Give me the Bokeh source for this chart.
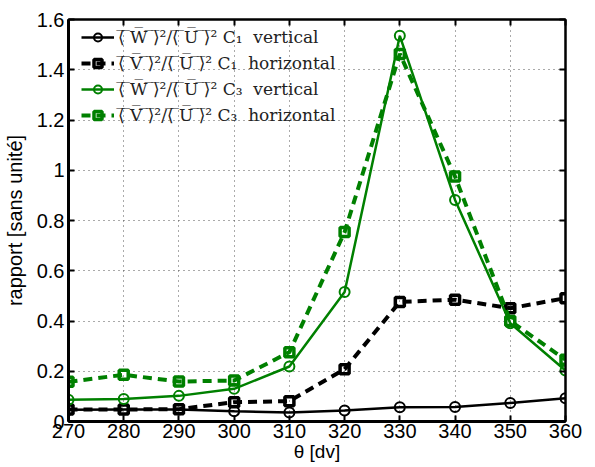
from bokeh.plotting import figure
from bokeh.models import LinearAxis, Range1d, FixedTicker, Legend, LegendItem
from bokeh.embed import file_html
from bokeh.resources import INLINE

theta = [270, 280, 290, 300, 310, 320, 330, 340, 350, 360]
w_c1_vert = [0.047, 0.048, 0.048, 0.041, 0.036, 0.044, 0.057, 0.058, 0.074, 0.093]
v_c1_horiz = [0.048, 0.048, 0.049, 0.077, 0.081, 0.208, 0.476, 0.485, 0.451, 0.491]
w_c3_vert = [0.087, 0.090, 0.102, 0.130, 0.219, 0.515, 1.535, 0.882, 0.391, 0.203]
v_c3_horiz = [0.158, 0.186, 0.159, 0.163, 0.276, 0.754, 1.463, 0.975, 0.400, 0.246]


def ov(s):
    return "".join(c + "\u0305" for c in s)


labels = [
    ov("\u27e8 W \u27e9") + "\u00b2/" + ov("\u27e8 U \u27e9") + "\u00b2 C\u2081  vertical",
    ov("\u27e8 V \u27e9") + "\u00b2/" + ov("\u27e8 U \u27e9") + "\u00b2 C\u2081  horizontal",
    ov("\u27e8 W \u27e9") + "\u00b2/" + ov("\u27e8 U \u27e9") + "\u00b2 C\u2083  vertical",
    ov("\u27e8 V \u27e9") + "\u00b2/" + ov("\u27e8 U \u27e9") + "\u00b2 C\u2083  horizontal",
]

x_ticks = [270, 280, 290, 300, 310, 320, 330, 340, 350, 360]
y_ticks = [0, 0.2, 0.4, 0.6, 0.8, 1.0, 1.2, 1.4, 1.6]
y_tick_labels = {0: "0", 0.2: "0.2", 0.4: "0.4", 0.6: "0.6", 0.8: "0.8", 1.0: "1", 1.2: "1.2", 1.4: "1.4", 1.6: "1.6"}

GREEN = "#008000"
BLACK = "#000000"

p = figure(width=595, height=467, output_backend="svg", toolbar_location=None,
           x_range=Range1d(270, 360), y_range=Range1d(0, 1.6),
           min_border_left=67, min_border_right=30, min_border_top=19, min_border_bottom=46)

p.outline_line_color = "black"
p.outline_line_width = 2

font = "Liberation Sans"
for ax in [p.xaxis[0], p.yaxis[0]]:
    ax.major_label_text_font = font
    ax.major_label_text_font_size = "20px"
    ax.major_label_text_color = "black"
    ax.axis_label_text_font = font
    ax.axis_label_text_font_size = "19px"
    ax.axis_label_text_font_style = "normal"
    ax.axis_label_text_color = "black"
    ax.axis_line_width = 3
    ax.major_tick_in = 6
    ax.major_tick_out = 0
    ax.major_tick_line_width = 2
    ax.minor_tick_line_color = None

p.xaxis[0].ticker = FixedTicker(ticks=x_ticks)
p.yaxis[0].ticker = FixedTicker(ticks=y_ticks)
p.yaxis[0].major_label_overrides = y_tick_labels
p.xaxis[0].axis_label = "\u03b8 [dv]"
p.yaxis[0].axis_label = "rapport [sans unit\u00e9]"
p.yaxis[0].axis_label_text_font_size = "20px"
p.xaxis[0].major_label_standoff = 2
p.xaxis[0].axis_label_standoff = 0
p.yaxis[0].major_label_standoff = 4
p.yaxis[0].axis_label_standoff = 8

top = LinearAxis(ticker=FixedTicker(ticks=x_ticks), major_label_text_alpha=0,
                 major_label_text_font_size="1px", major_tick_in=6, major_tick_out=0,
                 major_tick_line_width=2, minor_tick_line_color=None, axis_line_width=2)
right = LinearAxis(ticker=FixedTicker(ticks=y_ticks), major_label_text_alpha=0,
                   major_label_text_font_size="1px", major_tick_in=6, major_tick_out=0,
                   major_tick_line_width=2, minor_tick_line_color=None, axis_line_width=2)
p.add_layout(top, "above")
p.add_layout(right, "right")

p.xgrid.ticker = FixedTicker(ticks=x_ticks)
p.ygrid.ticker = FixedTicker(ticks=y_ticks)
for g in [p.xgrid[0], p.ygrid[0]]:
    g.grid_line_color = "#555555"
    g.grid_line_dash = "1 4"
    g.grid_line_width = 1

items = []
r1 = p.line(theta, w_c1_vert, line_color=BLACK, line_width=2.5)
s1 = p.scatter(theta, w_c1_vert, marker="circle", size=10, line_color=BLACK, line_width=2, fill_color=None)
items.append(LegendItem(label=labels[0], renderers=[r1, s1]))

r2 = p.line(theta, v_c1_horiz, line_color=BLACK, line_width=4, line_dash="9 6")
s2 = p.scatter(theta, v_c1_horiz, marker="square", size=9, line_color=BLACK, line_width=3.5, fill_color=None)
items.append(LegendItem(label=labels[1], renderers=[r2, s2]))

r3 = p.line(theta, w_c3_vert, line_color=GREEN, line_width=2.5)
s3 = p.scatter(theta, w_c3_vert, marker="circle", size=10, line_color=GREEN, line_width=2, fill_color=None)
items.append(LegendItem(label=labels[2], renderers=[r3, s3]))

r4 = p.line(theta, v_c3_horiz, line_color=GREEN, line_width=4, line_dash="9 6")
s4 = p.scatter(theta, v_c3_horiz, marker="square", size=9, line_color=GREEN, line_width=3.5, fill_color=None)
items.append(LegendItem(label=labels[3], renderers=[r4, s4]))

legend = Legend(items=items, location=(13, 296))
legend.background_fill_alpha = 0
legend.border_line_alpha = 0
legend.label_text_font = "DejaVu Serif"
legend.label_text_font_size = "17px"
legend.label_text_color = "#222222"
legend.glyph_width = 33
legend.glyph_height = 20
legend.label_height = 20
legend.spacing = 6
legend.padding = 0
legend.margin = 0
legend.label_standoff = 4
p.add_layout(legend)

open("out.html", "w").write(file_html(p, INLINE))
